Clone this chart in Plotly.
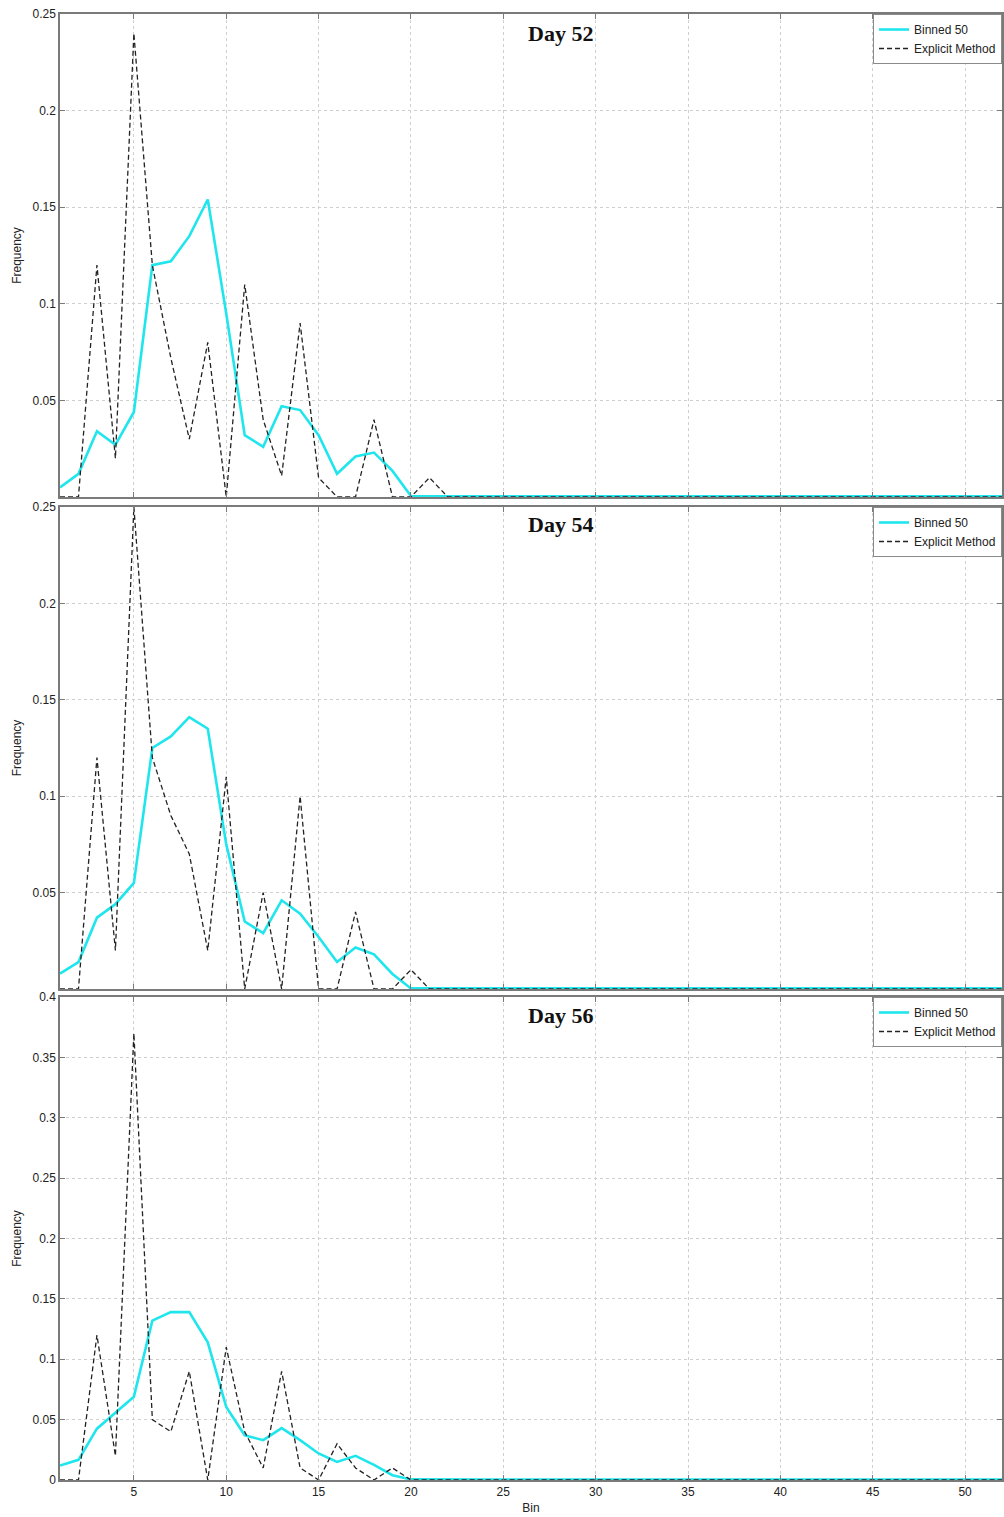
import plotly.graph_objects as go

bins = list(range(1, 53))

def pad(vals, fill=0.0):
    return vals + [fill] * (len(bins) - len(vals))

# Day 52
binned_52 = pad([0.005, 0.012, 0.034, 0.027, 0.044, 0.120, 0.122, 0.135, 0.154, 0.095,
                 0.032, 0.026, 0.047, 0.045, 0.032, 0.012, 0.021, 0.023, 0.0135, 0.0005], 0.0003)
explicit_52 = pad([0, 0, 0.12, 0.02, 0.24, 0.12, 0.072, 0.03, 0.08, 0,
                   0.11, 0.04, 0.011, 0.09, 0.01, 0, 0, 0.04, 0, 0,
                   0.01, 0])
# Day 54
binned_54 = pad([0.008, 0.014, 0.037, 0.044, 0.055, 0.125, 0.131, 0.141, 0.135, 0.075,
                 0.035, 0.029, 0.046, 0.039, 0.027, 0.014, 0.0215, 0.018, 0.0078, 0.0003], 0.0003)
explicit_54 = pad([0, 0, 0.12, 0.02, 0.25, 0.12, 0.09, 0.07, 0.02, 0.11,
                   0, 0.05, 0, 0.10, 0, 0, 0.04, 0, 0, 0.01,
                   0])
# Day 56
binned_56 = pad([0.012, 0.0167, 0.0425, 0.056, 0.069, 0.132, 0.139, 0.139, 0.114, 0.0605,
                 0.037, 0.033, 0.043, 0.033, 0.022, 0.015, 0.020, 0.0125, 0.004, 0.0005], 0.0003)
explicit_56 = pad([0, 0, 0.12, 0.02, 0.37, 0.05, 0.04, 0.09, 0, 0.11,
                   0.04, 0.01, 0.09, 0.01, 0, 0.03, 0.01, 0, 0.01, 0,
                   0])

titles = ["Day 52", "Day 54", "Day 56"]
binned = [binned_52, binned_54, binned_56]
explicit = [explicit_52, explicit_54, explicit_56]
y_ranges = [[0, 0.25], [0, 0.25], [0, 0.4]]
y_ticks = [[0.05, 0.1, 0.15, 0.2, 0.25],
           [0.05, 0.1, 0.15, 0.2, 0.25],
           [0, 0.05, 0.1, 0.15, 0.2, 0.25, 0.3, 0.35, 0.4]]
y_ticktext = [["0.05", "0.1", "0.15", "0.2", "0.25"],
              ["0.05", "0.1", "0.15", "0.2", "0.25"],
              ["0", "0.05", "0.1", "0.15", "0.2", "0.25", "0.3", "0.35", "0.4"]]
x_ticks = [5, 10, 15, 20, 25, 30, 35, 40, 45, 50]

W, H = 1004, 1517
mt, mb, ml, mr = 14, 37, 60, 0
ph = H - mt - mb
def py(pix):
    return (H - mb - pix) / ph

domains = [[py(497), 1.0], [py(989), py(507)], [0.0, py(997)]]
legend_tops = [py(14), py(507), py(997)]
title_ys = [py(33), py(524), py(1015)]

fig = go.Figure()
axis_color = "#7a7a7a"
grid_color = "#cfcfcf"
font_main = "Liberation Sans, Arial, sans-serif"

for i in range(3):
    n = "" if i == 0 else str(i + 1)
    leg = "legend" if i == 0 else f"legend{i+1}"
    fig.add_trace(go.Scatter(x=bins, y=binned[i], mode="lines", name="Binned 50",
                             line=dict(color="#1fe6ec", width=2.6),
                             xaxis="x" + n, yaxis="y" + n, legend=leg))
    fig.add_trace(go.Scatter(x=bins, y=explicit[i], mode="lines", name="Explicit Method",
                             line=dict(color="#222222", width=1.3, dash="5px,3px"),
                             xaxis="x" + n, yaxis="y" + n, legend=leg))
    xa = dict(range=[1, 52], domain=[0, 1], anchor="y" + n,
              tickvals=x_ticks, showticklabels=(i == 2),
              ticks="inside", ticklen=5, tickcolor=axis_color,
              showline=True, linecolor=axis_color, linewidth=1.5, mirror="allticks",
              showgrid=True, gridcolor=grid_color, griddash="dot", gridwidth=1,
              zeroline=False,
              tickfont=dict(family=font_main, size=12, color="#222"))
    if i == 2:
        xa["title"] = dict(text="Bin", font=dict(family=font_main, size=12, color="#222"), standoff=5)
    ya = dict(range=y_ranges[i], domain=domains[i], anchor="x" + n,
              tickvals=y_ticks[i], ticktext=y_ticktext[i],
              ticks="inside", ticklen=5, tickcolor=axis_color,
              showline=True, linecolor=axis_color, linewidth=1.5, mirror="allticks",
              showgrid=True, gridcolor=grid_color, griddash="dot", gridwidth=1,
              zeroline=False,
              title=dict(text="Frequency", font=dict(family=font_main, size=12, color="#222"), standoff=8),
              tickfont=dict(family=font_main, size=12, color="#222"))
    fig.layout["xaxis" + n] = xa
    fig.layout["yaxis" + n] = ya
    fig.layout[leg] = dict(x=1.0, xanchor="right", y=legend_tops[i], yanchor="top",
                           bgcolor="white", bordercolor="#8a8a8a", borderwidth=1,
                           font=dict(family=font_main, size=12, color="#222"),
                           itemwidth=30, tracegroupgap=0)
    fig.add_annotation(text="<b>" + titles[i] + "</b>", x=0.531, y=title_ys[i],
                       xref="paper", yref="paper", xanchor="center", yanchor="middle",
                       showarrow=False,
                       font=dict(family="Liberation Serif, Times New Roman, serif", size=22, color="#111"))

fig.update_layout(width=W, height=H, margin=dict(t=mt, b=mb, l=ml, r=mr),
                  paper_bgcolor="white", plot_bgcolor="white", showlegend=True)

fig.write_html("out.html", config={"displayModeBar": False},
               post_script="document.body.style.margin='0';document.body.style.padding='0';")
